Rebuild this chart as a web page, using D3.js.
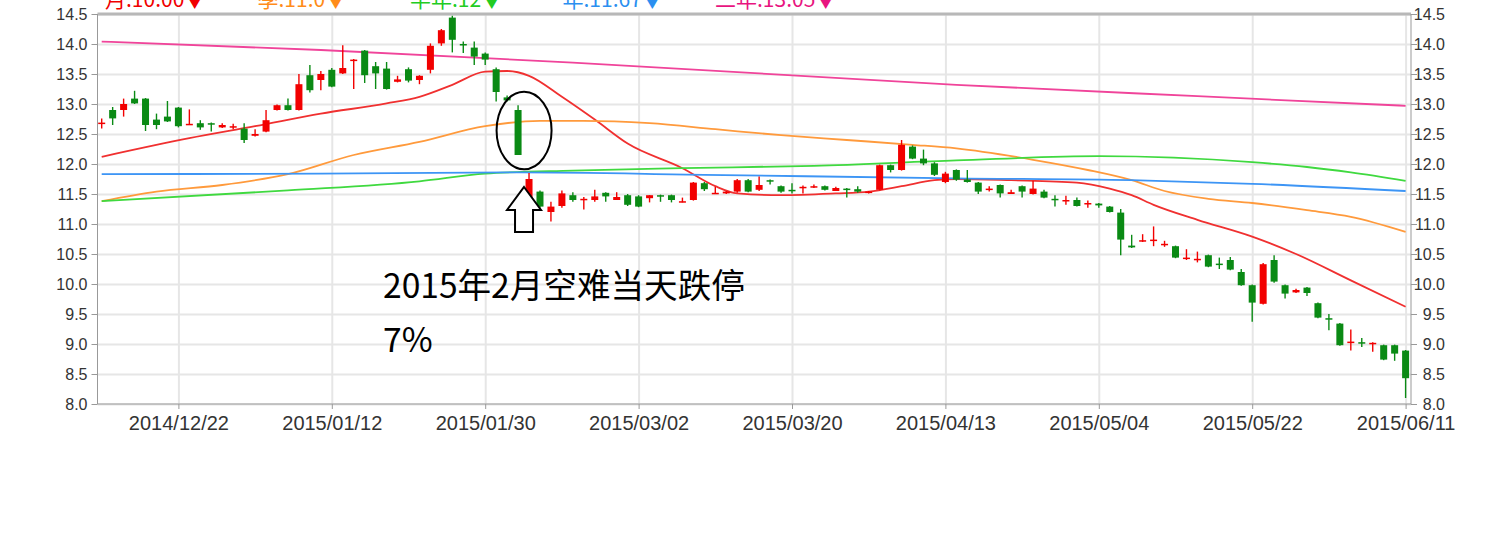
<!DOCTYPE html>
<html>
<head>
<meta charset="utf-8">
<script src="https://cdn.jsdelivr.net/npm/d3@7"></script>
<style>
  body { margin: 0; background: #fff; }
  svg { display: block; font-family: "Liberation Sans", Arial, sans-serif; }
  .axis path.domain { display: none; }
  .axis text { fill: #333; }
  .grid line { stroke: #e6e6e6; stroke-width: 2; }
  .grid path.domain { display: none; }
</style>
</head>
<body>
<svg id="chart"></svg>
<script>
// trading days shown on the chart
const dates = [
  '2014/12/11','2014/12/12','2014/12/15','2014/12/16','2014/12/17','2014/12/18','2014/12/19',
  '2014/12/22','2014/12/23','2014/12/24','2014/12/25','2014/12/26','2014/12/27','2014/12/29','2014/12/30','2014/12/31',
  '2015/01/05','2015/01/06','2015/01/07','2015/01/08','2015/01/09',
  '2015/01/12','2015/01/13','2015/01/14','2015/01/15','2015/01/16',
  '2015/01/19','2015/01/20','2015/01/21','2015/01/22','2015/01/23',
  '2015/01/26','2015/01/27','2015/01/28','2015/01/29','2015/01/30',
  '2015/02/02','2015/02/03','2015/02/04','2015/02/05','2015/02/06',
  '2015/02/09','2015/02/10','2015/02/11','2015/02/12','2015/02/13',
  '2015/02/24','2015/02/25','2015/02/26',
  '2015/03/02','2015/03/03','2015/03/04','2015/03/05','2015/03/06',
  '2015/03/09','2015/03/10','2015/03/11','2015/03/12','2015/03/13',
  '2015/03/16','2015/03/17','2015/03/18','2015/03/19','2015/03/20',
  '2015/03/23','2015/03/24','2015/03/25','2015/03/26','2015/03/27',
  '2015/03/30','2015/03/31','2015/04/01','2015/04/02',
  '2015/04/07','2015/04/08','2015/04/09','2015/04/10',
  '2015/04/13','2015/04/14','2015/04/15','2015/04/16','2015/04/17',
  '2015/04/20','2015/04/21','2015/04/22','2015/04/23','2015/04/24',
  '2015/04/27','2015/04/28','2015/04/29','2015/04/30',
  '2015/05/04','2015/05/05','2015/05/06','2015/05/07','2015/05/08',
  '2015/05/11','2015/05/12','2015/05/13','2015/05/14','2015/05/15',
  '2015/05/18','2015/05/19','2015/05/20','2015/05/21','2015/05/22',
  '2015/05/25','2015/05/26','2015/05/27','2015/05/28','2015/05/29',
  '2015/06/01','2015/06/02','2015/06/03','2015/06/04','2015/06/05',
  '2015/06/08','2015/06/09','2015/06/10','2015/06/11'
];

const openPrices = [
  12.67,12.90,12.90,13.09,13.09,12.74,12.79,12.94,12.65,12.68,
  12.68,12.61,12.62,12.59,12.47,12.54,12.90,12.98,12.90,13.48,
  13.40,13.57,13.51,13.72,13.89,13.63,13.59,13.37,13.58,13.40,
  13.57,14.01,14.44,14.00,13.94,13.84,13.58,13.11,12.90,11.30,
  11.54,11.20,11.30,11.48,11.41,11.40,11.52,11.40,11.48,11.46,
  11.43,11.48,11.48,11.37,11.40,11.68,11.51,11.51,11.54,11.73,
  11.57,11.73,11.63,11.57,11.61,11.62,11.63,11.55,11.59,11.58,
  11.52,11.57,11.98,11.90,12.29,12.09,12.01,11.70,11.90,11.74,
  11.69,11.58,11.65,11.50,11.63,11.50,11.54,11.42,11.38,11.40,
  11.33,11.34,11.29,11.19,10.64,10.71,10.72,10.66,10.63,10.42,
  10.40,10.48,10.34,10.40,10.20,9.98,9.67,10.40,9.98,9.86,
  9.94,9.68,9.43,9.34,9.03,9.03,9.00,8.98,8.98,8.89
];
const highPrices = [
  12.76,12.95,13.09,13.22,13.10,12.84,13.05,12.95,12.91,12.73,
  12.69,12.68,12.67,12.68,12.58,12.90,12.99,13.09,13.50,13.65,
  13.55,13.60,13.98,13.75,13.90,13.70,13.70,13.47,13.61,13.48,
  14.01,14.25,14.47,14.04,14.04,13.86,13.61,13.14,12.98,11.85,
  11.56,11.37,11.56,11.53,11.45,11.57,11.53,11.53,11.50,11.48,
  11.48,11.49,11.49,11.44,11.70,11.70,11.62,11.55,11.75,11.75,
  11.79,11.74,11.64,11.68,11.64,11.66,11.64,11.62,11.60,11.63,
  11.55,11.99,11.99,12.40,12.31,12.24,12.03,11.87,11.91,11.90,
  11.70,11.63,11.66,11.57,11.64,11.72,11.57,11.48,11.47,11.44,
  11.39,11.35,11.30,11.25,10.82,10.83,10.96,10.72,10.64,10.58,
  10.54,10.49,10.44,10.45,10.25,9.99,10.35,10.48,9.99,9.92,
  9.95,9.69,9.50,9.35,9.24,9.10,9.03,8.99,8.99,8.90
];
const lowPrices = [
  12.59,12.65,12.79,13.00,12.55,12.58,12.70,12.61,12.65,12.57,
  12.54,12.60,12.58,12.35,12.46,12.53,12.89,12.89,12.89,13.19,
  13.23,13.28,13.50,13.25,13.35,13.25,13.24,13.36,13.36,13.33,
  13.51,13.97,13.86,13.85,13.65,13.65,13.04,13.04,12.15,11.30,
  11.27,11.04,11.27,11.37,11.24,11.37,11.37,11.40,11.30,11.28,
  11.36,11.37,11.36,11.36,11.39,11.55,11.50,11.50,11.52,11.53,
  11.55,11.66,11.52,11.51,11.51,11.60,11.56,11.55,11.44,11.52,
  11.51,11.56,11.86,11.89,12.08,11.98,11.80,11.68,11.72,11.69,
  11.50,11.54,11.44,11.50,11.44,11.49,11.43,11.29,11.32,11.29,
  11.27,11.27,11.19,10.48,10.60,10.70,10.63,10.62,10.43,10.40,
  10.36,10.28,10.25,10.23,9.97,9.37,9.66,10.02,9.76,9.85,
  9.80,9.43,9.23,8.97,8.89,8.95,8.87,8.73,8.72,8.10
];
const closePrices = [
  12.69,12.76,13.00,13.01,12.65,12.65,12.71,12.63,12.67,12.61,
  12.66,12.65,12.63,12.40,12.50,12.73,12.98,12.90,13.33,13.23,
  13.50,13.29,13.60,13.74,13.48,13.51,13.25,13.41,13.39,13.47,
  13.97,14.23,14.07,13.99,13.79,13.74,13.20,13.06,12.15,11.75,
  11.29,11.29,11.51,11.40,11.42,11.46,11.46,11.45,11.32,11.29,
  11.48,11.47,11.40,11.38,11.69,11.58,11.52,11.54,11.73,11.54,
  11.65,11.71,11.54,11.56,11.62,11.63,11.57,11.60,11.58,11.54,
  11.54,11.98,11.90,12.32,12.09,12.01,11.82,11.84,11.74,11.70,
  11.54,11.59,11.51,11.53,11.54,11.59,11.44,11.41,11.40,11.30,
  11.35,11.31,11.20,10.74,10.61,10.73,10.74,10.67,10.44,10.44,
  10.42,10.29,10.32,10.24,9.98,9.69,10.33,10.04,9.84,9.90,
  9.85,9.44,9.41,8.98,9.04,9.02,9.02,8.74,8.84,8.43
];

// moving averages, read at sample days (index into dates)
const maMonthIdx = [0, 8, 14, 20, 26, 29, 32, 35, 37, 39, 42, 45, 48, 53, 56, 58, 62, 67, 70, 73, 76, 78, 83, 89, 92, 94, 96, 100, 105, 109, 114, 119];
const maMonthVal = [12.12, 12.43, 12.63, 12.84, 13.01, 13.12, 13.32, 13.54, 13.55, 13.47, 13.12, 12.74, 12.34, 11.93, 11.63, 11.51, 11.48, 11.51, 11.54, 11.63, 11.73, 11.75, 11.73, 11.69, 11.59, 11.48, 11.32, 11.07, 10.79, 10.50, 10.06, 9.62];
const maQuarterIdx = [0, 5, 11, 17, 23, 29, 35, 40, 44, 50, 56, 62, 68, 74, 78, 85, 90, 94, 97, 101, 105, 110, 114, 119];
const maQuarterVal = [11.38, 11.54, 11.65, 11.83, 12.15, 12.37, 12.63, 12.72, 12.72, 12.68, 12.58, 12.48, 12.40, 12.32, 12.26, 12.07, 11.90, 11.73, 11.55, 11.42, 11.35, 11.23, 11.12, 10.87];
const maHalfIdx = [0, 17, 29, 35, 43, 53, 65, 78, 91, 105, 110, 114, 119];
const maHalfVal = [11.38, 11.56, 11.71, 11.84, 11.89, 11.93, 11.97, 12.06, 12.13, 12.03, 11.95, 11.86, 11.72];
const maYearIdx = [0, 20, 38, 55, 78, 94, 105, 119];
const maYearVal = [11.83, 11.84, 11.86, 11.82, 11.76, 11.73, 11.67, 11.55];
const maTwoYearIdx = [0, 20, 43, 78, 100, 119];
const maTwoYearVal = [14.04, 13.90, 13.69, 13.32, 13.13, 12.97];

const yTicks = [8.0, 8.5, 9.0, 9.5, 10.0, 10.5, 11.0, 11.5, 12.0, 12.5, 13.0, 13.5, 14.0, 14.5];
const xTickLabels = ['2014/12/22','2015/01/12','2015/01/30','2015/03/02','2015/03/20','2015/04/13','2015/05/04','2015/05/22','2015/06/11'];

const legendLabels = ['月:10.00▼', '季:11.0▼', '半年:12▼', '年:11.67▼', '二年:13.05▼'];
const legendColors = ['#f00000', '#ff8c1a', '#22cc22', '#2b8ff0', '#e8157f'];

const noteLines = ['2015年2月空难当天跌停', '7%'];
const crashIndex = 38;

class CandleChart {

  constructor(_config) {
    this.config = {
      parentElement: _config.parentElement,
      containerWidth: _config.containerWidth || 1505,
      containerHeight: _config.containerHeight || 559,
      plotLeft: 97.5,
      plotRight: 1411,
      plotTop: 14,
      plotBottom: 404
    };
    this.initVis();
  }

  initVis() {
    let vis = this;
    let c = vis.config;

    vis.svg = d3.select(c.parentElement)
      .attr('width', c.containerWidth)
      .attr('height', c.containerHeight);

    vis.xScale = d3.scalePoint()
      .domain(dates)
      .range([101.7, 1405.6]);

    vis.yScale = d3.scaleLinear()
      .domain([8, 14.5])
      .range([c.plotBottom, c.plotTop]);

    // grid lines
    vis.svg.append('g')
      .attr('class', 'grid')
      .attr('transform', `translate(${c.plotLeft},0)`)
      .call(d3.axisLeft(vis.yScale).tickValues(yTicks).tickSize(-(c.plotRight - c.plotLeft)).tickFormat(''));

    vis.svg.append('g')
      .attr('class', 'grid')
      .attr('transform', `translate(0,${c.plotBottom})`)
      .call(d3.axisBottom(vis.xScale).tickValues(xTickLabels).tickSize(-(c.plotBottom - c.plotTop)).tickFormat(''));

    // frame
    vis.svg.append('line')
      .attr('x1', c.plotLeft).attr('x2', c.plotRight)
      .attr('y1', c.plotTop).attr('y2', c.plotTop)
      .attr('stroke', '#b8b8b8').attr('stroke-width', 3);
    vis.svg.append('line')
      .attr('x1', c.plotLeft).attr('x2', c.plotRight)
      .attr('y1', c.plotBottom).attr('y2', c.plotBottom)
      .attr('stroke', '#999');
    [c.plotLeft, c.plotRight].forEach(x => {
      vis.svg.append('line')
        .attr('x1', x).attr('x2', x)
        .attr('y1', c.plotTop).attr('y2', c.plotBottom)
        .attr('stroke', '#999');
    });

    // axes
    vis.yAxisLeft = d3.axisLeft(vis.yScale)
      .tickValues(yTicks)
      .tickFormat(d3.format('.1f'))
      .tickSize(6)
      .tickPadding(4);
    vis.svg.append('g')
      .attr('class', 'axis')
      .attr('transform', `translate(${c.plotLeft},0)`)
      .call(vis.yAxisLeft)
      .call(g => g.selectAll('.tick line').attr('stroke', '#999'))
      .call(g => g.selectAll('text').attr('font-size', 16));

    vis.yAxisRight = d3.axisRight(vis.yScale)
      .tickValues(yTicks)
      .tickFormat(d3.format('.1f'))
      .tickSize(6)
      .tickPadding(4);
    vis.svg.append('g')
      .attr('class', 'axis')
      .attr('transform', `translate(${c.plotRight},0)`)
      .call(vis.yAxisRight)
      .call(g => g.selectAll('.tick line').attr('stroke', '#999'))
      .call(g => g.selectAll('text').attr('font-size', 16).attr('text-anchor', 'end').attr('x', 34));

    vis.xAxis = d3.axisBottom(vis.xScale)
      .tickValues(xTickLabels)
      .tickSize(5)
      .tickPadding(7);
    vis.svg.append('g')
      .attr('class', 'axis')
      .attr('transform', `translate(0,${c.plotBottom})`)
      .call(vis.xAxis)
      .call(g => g.selectAll('.tick line').attr('stroke', '#999'))
      .call(g => g.selectAll('text').attr('font-size', 20));

    vis.chart = vis.svg.append('g');
    vis.updateVis();
  }

  updateVis() {
    let vis = this;

    vis.candles = dates.map((d, i) => ({
      date: d,
      open: openPrices[i],
      high: highPrices[i],
      low: lowPrices[i],
      close: closePrices[i]
    }));

    // moving average lines
    vis.maSeries = [
      { idx: maMonthIdx, val: maMonthVal, color: '#f03030' },
      { idx: maQuarterIdx, val: maQuarterVal, color: '#ff9a3c' },
      { idx: maHalfIdx, val: maHalfVal, color: '#3fd93f' },
      { idx: maYearIdx, val: maYearVal, color: '#3d95f5' },
      { idx: maTwoYearIdx, val: maTwoYearVal, color: '#f0449a' }
    ];

    vis.line = d3.line()
      .x(d => vis.xScale(dates[d[0]]))
      .y(d => vis.yScale(d[1]))
      .curve(d3.curveMonotoneX);

    vis.chart.selectAll('.ma-line')
      .data(vis.maSeries)
      .join('path')
      .attr('class', 'ma-line')
      .attr('d', s => vis.line(s.idx.map((k, j) => [k, s.val[j]])))
      .attr('fill', 'none')
      .attr('stroke', s => s.color)
      .attr('stroke-width', 1.8);

    const colorOf = d => d.close >= d.open ? '#f20000' : '#0a8a14';

    // wicks
    vis.chart.selectAll('.wick')
      .data(vis.candles)
      .join('line')
      .attr('class', 'wick')
      .attr('x1', d => vis.xScale(d.date))
      .attr('x2', d => vis.xScale(d.date))
      .attr('y1', d => vis.yScale(d.high))
      .attr('y2', d => vis.yScale(d.low))
      .attr('stroke', colorOf)
      .attr('stroke-width', 1.4);

    // bodies
    vis.chart.selectAll('.body')
      .data(vis.candles)
      .join('rect')
      .attr('class', 'body')
      .attr('x', d => vis.xScale(d.date) - 3.5)
      .attr('width', 7)
      .attr('y', d => vis.yScale(Math.max(d.open, d.close)))
      .attr('height', d => Math.max(1.5, Math.abs(vis.yScale(d.open) - vis.yScale(d.close))))
      .attr('fill', colorOf);

    // legend, cut off at the top edge like the original
    vis.svg.selectAll('.legend')
      .data(legendLabels)
      .join('text')
      .attr('class', 'legend')
      .attr('x', (d, i) => 105 + i * 152.5)
      .attr('y', 7)
      .attr('font-size', 21)
      .attr('font-family', '"Noto Sans CJK SC", sans-serif')
      .attr('fill', (d, i) => legendColors[i])
      .text(d => d);

    // annotation
    let cx = vis.xScale(dates[crashIndex]);
    vis.svg.append('ellipse')
      .attr('cx', cx + 6)
      .attr('cy', 130.5)
      .attr('rx', 27.5)
      .attr('ry', 38.8)
      .attr('fill', 'none')
      .attr('stroke', '#000')
      .attr('stroke-width', 2);

    let ax = vis.xScale(dates[crashIndex + 1]) - 5;
    vis.svg.append('path')
      .attr('d', `M${ax},187 L${ax + 17},210 L${ax + 9},210 L${ax + 9},232 L${ax - 9},232 L${ax - 9},210 L${ax - 17},210 Z`)
      .attr('fill', '#fff')
      .attr('stroke', '#000')
      .attr('stroke-width', 2);

    vis.svg.selectAll('.note')
      .data(noteLines)
      .join('text')
      .attr('class', 'note')
      .attr('x', 383)
      .attr('y', (d, i) => 298 + i * 54)
      .attr('font-size', 33.6)
      .attr('font-family', '"Noto Sans CJK SC", sans-serif')
      .attr('fill', '#000')
      .text(d => d);
  }
}

new CandleChart({ parentElement: '#chart' });
</script>
</body>
</html>
